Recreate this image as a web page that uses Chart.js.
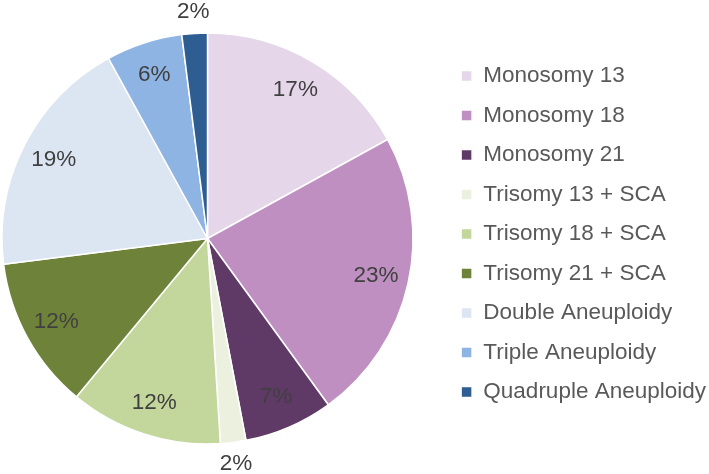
<!DOCTYPE html>
<html>
<head>
<meta charset="utf-8">
<script src="https://cdn.jsdelivr.net/npm/chart.js@4.4.0/dist/chart.umd.min.js"></script>
<style>
  html, body { margin: 0; padding: 0; background: #fff; }
  #wrap { width: 709px; height: 474px; }
</style>
</head>
<body>
<div id="wrap"><canvas id="pieChart" width="709" height="474"></canvas></div>
<script>
// data (percent of cases)
const categories = [
  'Monosomy 13', 'Monosomy 18', 'Monosomy 21',
  'Trisomy 13 + SCA', 'Trisomy 18 + SCA', 'Trisomy 21 + SCA',
  'Double Aneuploidy', 'Triple Aneuploidy', 'Quadruple Aneuploidy'
];
const percents = [17, 23, 7, 2, 12, 12, 19, 6, 2];
const sliceColors = [
  '#E5D6E9', '#BF8FC1', '#5F3A67',
  '#EBF1DE', '#C3D69B', '#6F823A',
  '#DCE6F2', '#8DB4E2', '#2D5D91'
];

const PIE_CENTER_X = 207.5;

// legend sits close to the pie, so widen the chart area to the left
// (negative left padding gets clamped by the layout)
const recenterPie = {
  id: 'recenterPie',
  afterLayout(chart) {
    const area = chart.chartArea;
    area.left = 2 * PIE_CENTER_X - area.right;
    area.width = area.right - area.left;
  }
};

// percentage labels: inside for big slices, outside for the tiny ones
const sliceLabels = {
  id: 'sliceLabels',
  afterDatasetsDraw(chart) {
    const ctx = chart.ctx;
    const arcs = chart.getDatasetMeta(0).data;
    ctx.save();
    ctx.font = '22.5px "Liberation Sans", Arial, sans-serif';
    ctx.fillStyle = '#404040';
    ctx.textAlign = 'center';
    ctx.textBaseline = 'middle';
    arcs.forEach((arc, i) => {
      const p = arc.getProps(['x', 'y', 'startAngle', 'endAngle', 'outerRadius'], true);
      const mid = (p.startAngle + p.endAngle) / 2;
      const r = percents[i] < 4 ? p.outerRadius + 21.5 : p.outerRadius * 0.84;
      ctx.fillText(percents[i] + '%', p.x + Math.cos(mid) * r, p.y + Math.sin(mid) * r);
    });
    ctx.restore();
  }
};

new Chart(document.getElementById('pieChart'), {
  type: 'pie',
  data: {
    labels: categories,
    datasets: [{
      data: percents,
      backgroundColor: sliceColors,
      borderColor: '#ffffff',
      borderWidth: 1.5,
      hoverOffset: 0,
      radius: 205.5
    }]
  },
  options: {
    responsive: false,
    animation: false,
    layout: { padding: { left: 0, right: -7, top: 20, bottom: 26 } },
    plugins: {
      // invisible spacer so the legend sits a little higher than the pie centre
      title: { display: true, text: ' ', font: { size: 1 }, padding: { top: 0, bottom: 7.8 } },
      tooltip: { enabled: false },
      legend: {
        position: 'right',
        labels: {
          boxWidth: 11,
          boxHeight: 11,
          padding: 17,
          color: '#595959',
          font: { family: '"Liberation Sans", Arial, sans-serif', size: 22.5 }
        }
      }
    }
  },
  plugins: [recenterPie, sliceLabels]
});
</script>
</body>
</html>
